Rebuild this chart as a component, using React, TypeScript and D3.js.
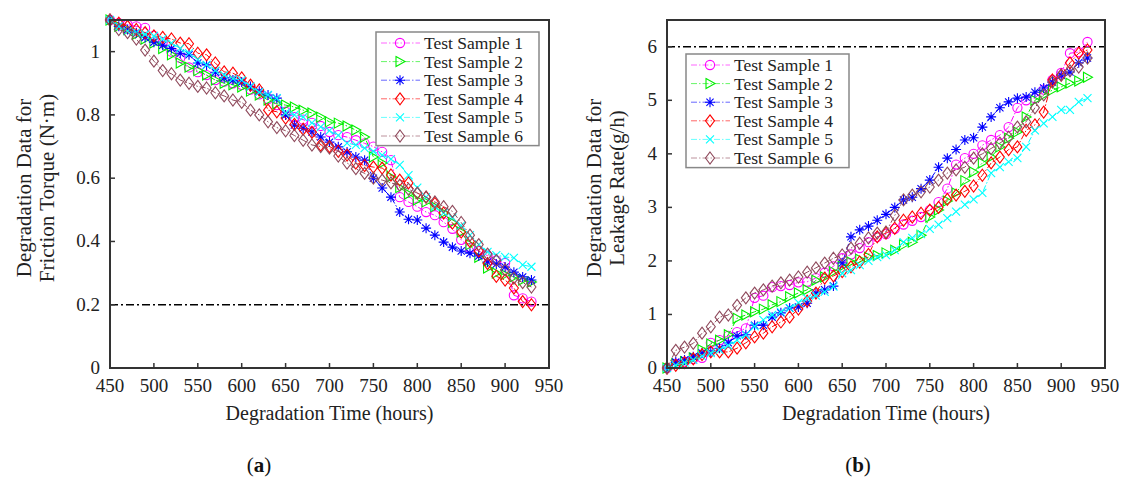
import React from "react";
import * as d3 from "d3";

const hours = [450,460,470,480,490,500,510,520,530,540,550,560,570,580,590,600,610,620,630,640,650,660,670,680,690,700,710,720,730,740,750,760,770,780,790,800,810,820,830,840,850,860,870,880,890,900,910,920,930];

const seriesNames = ["Test Sample 1","Test Sample 2","Test Sample 3","Test Sample 4","Test Sample 5","Test Sample 6"];
const seriesColors = ["#ff00ff","#00ee00","#0000ff","#ff0000","#00ffff","#8f4a5c"];
const seriesMarkers = ["circle","triangle","asterisk","diamond","cross","diamond"];

const torque1 = [1.1,1.09,1.085,1.08,1.075,1.05,1.03,1.0,0.98,0.95,0.935,0.926,0.91,0.905,0.9,0.895,0.88,0.865,0.85,0.831,0.81,0.793,0.785,0.775,0.765,0.746,0.736,0.73,0.72,0.71,0.70,0.683,0.657,0.54,0.525,0.51,0.493,0.483,0.461,0.44,0.405,0.38,0.37,0.355,0.34,0.332,0.23,0.22,0.21];
const torque2 = [1.1,1.08,1.07,1.055,1.04,1.027,1.01,0.99,0.964,0.951,0.94,0.926,0.91,0.9,0.895,0.888,0.875,0.863,0.847,0.835,0.831,0.825,0.815,0.806,0.793,0.778,0.774,0.765,0.752,0.73,0.667,0.648,0.604,0.57,0.55,0.531,0.525,0.51,0.49,0.46,0.43,0.39,0.35,0.316,0.3,0.295,0.288,0.278,0.272];
const torque3 = [1.1,1.08,1.07,1.06,1.045,1.03,1.02,1.01,0.995,0.99,0.964,0.958,0.935,0.917,0.91,0.904,0.89,0.875,0.863,0.853,0.8,0.768,0.758,0.746,0.73,0.714,0.699,0.683,0.667,0.657,0.6,0.569,0.54,0.493,0.47,0.468,0.442,0.42,0.398,0.382,0.37,0.363,0.354,0.335,0.329,0.319,0.303,0.288,0.278];
const torque4 = [1.1,1.09,1.08,1.07,1.06,1.05,1.045,1.04,1.027,1.025,0.995,0.99,0.964,0.936,0.932,0.917,0.894,0.879,0.815,0.81,0.79,0.77,0.755,0.745,0.705,0.7,0.685,0.673,0.648,0.64,0.635,0.632,0.61,0.594,0.585,0.553,0.54,0.52,0.49,0.458,0.43,0.4,0.37,0.33,0.29,0.278,0.253,0.21,0.2];
const torque5 = [1.1,1.08,1.065,1.06,1.055,1.05,1.04,1.027,1.01,0.995,0.975,0.958,0.94,0.926,0.915,0.91,0.89,0.872,0.863,0.853,0.806,0.8,0.793,0.775,0.762,0.75,0.735,0.711,0.705,0.695,0.685,0.673,0.66,0.642,0.61,0.57,0.54,0.51,0.49,0.475,0.45,0.42,0.39,0.367,0.357,0.351,0.348,0.326,0.32];
const torque6 = [1.1,1.07,1.06,1.04,1.005,0.97,0.94,0.93,0.91,0.9,0.89,0.885,0.87,0.86,0.847,0.84,0.815,0.8,0.778,0.76,0.75,0.735,0.72,0.705,0.7,0.695,0.67,0.648,0.63,0.615,0.6,0.594,0.585,0.578,0.565,0.553,0.54,0.525,0.51,0.495,0.46,0.42,0.39,0.36,0.34,0.31,0.284,0.27,0.256];

const leak1 = [0,0.08,0.12,0.17,0.19,0.47,0.52,0.6,0.67,0.74,1.31,1.35,1.51,1.53,1.55,1.6,1.61,1.68,1.78,1.9,2.05,2.12,2.24,2.35,2.45,2.5,2.6,2.68,2.75,2.82,2.95,3.1,3.35,3.8,3.92,4.0,4.16,4.26,4.35,4.5,4.86,5.0,5.04,5.2,5.38,5.51,5.88,5.9,6.09];
const leak2 = [0,0.08,0.12,0.19,0.34,0.45,0.52,0.62,0.93,0.99,1.05,1.1,1.18,1.24,1.33,1.4,1.46,1.64,1.7,1.8,1.9,1.98,2.03,2.07,2.1,2.15,2.2,2.3,2.35,2.48,2.82,2.95,3.12,3.27,3.5,3.66,3.83,3.94,4.13,4.29,4.41,4.69,5.0,5.1,5.19,5.25,5.32,5.36,5.43];
const leak3 = [0,0.11,0.15,0.21,0.28,0.3,0.37,0.47,0.6,0.62,0.8,0.8,0.95,1.03,1.12,1.14,1.21,1.4,1.46,1.53,1.96,2.45,2.58,2.65,2.76,2.87,3.0,3.14,3.19,3.35,3.51,3.75,3.92,4.08,4.26,4.3,4.5,4.69,4.86,4.97,5.04,5.06,5.15,5.23,5.34,5.47,5.53,5.7,5.79];
const leak4 = [0,0.05,0.1,0.17,0.25,0.3,0.3,0.3,0.37,0.47,0.58,0.65,0.77,0.86,0.95,1.1,1.25,1.4,1.68,1.72,1.8,1.89,1.98,2.12,2.45,2.52,2.61,2.76,2.82,2.89,2.95,3.0,3.15,3.23,3.3,3.4,3.6,3.83,3.94,4.08,4.13,4.44,4.54,4.78,5.38,5.47,5.7,5.88,5.94];
const leak5 = [0,0.05,0.1,0.15,0.22,0.28,0.34,0.42,0.52,0.62,0.78,0.9,0.99,1.05,1.12,1.22,1.3,1.35,1.42,1.52,1.77,1.83,1.92,2.0,2.07,2.11,2.2,2.35,2.43,2.5,2.6,2.68,2.8,2.92,3.05,3.15,3.27,3.64,3.75,3.85,3.92,4.13,4.44,4.57,4.69,4.82,4.82,4.97,5.04];
const leak6 = [0,0.33,0.39,0.46,0.65,0.77,0.95,0.99,1.17,1.31,1.4,1.46,1.53,1.59,1.64,1.7,1.79,1.87,1.96,2.05,2.11,2.24,2.33,2.43,2.52,2.54,2.85,3.14,3.23,3.29,3.38,3.51,3.64,3.7,3.75,3.92,4.0,4.1,4.2,4.31,4.5,4.6,4.86,5.1,5.34,5.47,5.55,5.62,5.79];

const xTicks = [450,500,550,600,650,700,750,800,850,900,950];
const torqueTicks = [0,0.2,0.4,0.6,0.8,1];
const leakTicks = [0,1,2,3,4,5,6];
const torqueThreshold = 0.2;
const leakThreshold = 6;

const FONT = "'Liberation Serif', 'Times New Roman', serif";

function Marker({ type, x, y, color }: { type: string; x: number; y: number; color: string }) {
  const sw = 1.1;
  if (type === "circle") return <circle cx={x} cy={y} r={4.6} fill="none" stroke={color} strokeWidth={sw} />;
  if (type === "triangle")
    return <path d={`M${x - 4},${y - 5} L${x + 5},${y} L${x - 4},${y + 5} Z`} fill="none" stroke={color} strokeWidth={sw} />;
  if (type === "diamond")
    return <path d={`M${x},${y - 6} L${x + 4.5},${y} L${x},${y + 6} L${x - 4.5},${y} Z`} fill="none" stroke={color} strokeWidth={sw} />;
  if (type === "cross")
    return (
      <path d={`M${x - 4},${y - 4} L${x + 4},${y + 4} M${x - 4},${y + 4} L${x + 4},${y - 4}`} fill="none" stroke={color} strokeWidth={sw} />
    );
  return (
    <path
      d={`M${x},${y - 5} L${x},${y + 5} M${x - 5},${y} L${x + 5},${y} M${x - 3.6},${y - 3.6} L${x + 3.6},${y + 3.6} M${x - 3.6},${y + 3.6} L${x + 3.6},${y - 3.6}`}
      fill="none"
      stroke={color}
      strokeWidth={sw}
    />
  );
}

type PanelProps = {
  left: number;
  right: number;
  top: number;
  bottom: number;
  yMax: number;
  yTicks: number[];
  yFmt: (v: number) => string;
  series: number[][];
  threshold: number;
  titleLines: string[];
  titleX: number[];
  legendX: number;
  legendY: number;
  tag: string;
  tagX: number;
};

function Panel(p: PanelProps) {
  const x = d3.scaleLinear().domain([450, 950]).range([p.left, p.right]);
  const y = d3.scaleLinear().domain([0, p.yMax]).range([p.bottom, p.top]);
  const line = d3
    .line<number>()
    .x((_, i) => x(hours[i]))
    .y((d) => y(d));
  const legW = 163;
  const rowH = 18.6;
  const legH = rowH * 6 + 2;
  const cy = 188;
  return (
    <g>
      <line x1={p.left} x2={p.right} y1={y(p.threshold)} y2={y(p.threshold)} stroke="#000" strokeWidth={1.6} strokeDasharray="8,3,2,3" />
      {p.series.map((s, si) => (
        <g key={si}>
          <path d={line(s) || ""} fill="none" stroke={seriesColors[si]} strokeWidth={1} strokeDasharray="6,2,1.5,2" />
          {s.map((v, i) => (
            <Marker key={i} type={seriesMarkers[si]} x={x(hours[i])} y={y(v)} color={seriesColors[si]} />
          ))}
        </g>
      ))}
      <rect x={p.left} y={p.top} width={p.right - p.left} height={p.bottom - p.top} fill="none" stroke="#333" strokeWidth={2} />
      {xTicks.map((t) => (
        <g key={t}>
          <line x1={x(t)} x2={x(t)} y1={p.bottom} y2={p.bottom - 5} stroke="#333" strokeWidth={1.5} />
          <text x={x(t)} y={p.bottom + 24} fontSize={19} fontFamily={FONT} textAnchor="middle" fill="#222">
            {t}
          </text>
        </g>
      ))}
      {p.yTicks.map((t) => (
        <g key={t}>
          <line x1={p.left} x2={p.left + 5} y1={y(t)} y2={y(t)} stroke="#333" strokeWidth={1.5} />
          <text x={p.left - 10} y={y(t) + 6} fontSize={19} fontFamily={FONT} textAnchor="end" fill="#222">
            {p.yFmt(t)}
          </text>
        </g>
      ))}
      <text x={(p.left + p.right) / 2} y={420} fontSize={20} fontFamily={FONT} textAnchor="middle" fill="#222">
        Degradation Time (hours)
      </text>
      {p.titleLines.map((t, i) => (
        <text
          key={i}
          transform={`translate(${p.titleX[i]},${cy}) rotate(-90)`}
          fontSize={21}
          fontFamily={FONT}
          textAnchor="middle"
          fill="#222"
        >
          {t}
        </text>
      ))}
      <rect x={p.legendX} y={p.legendY} width={legW} height={legH} fill="#fff" stroke="#888" strokeWidth={1.5} />
      {seriesNames.map((n, i) => {
        const ry = p.legendY + 11 + i * rowH;
        return (
          <g key={n}>
            <line x1={p.legendX + 5} x2={p.legendX + 44} y1={ry} y2={ry} stroke={seriesColors[i]} strokeOpacity={0.6} strokeWidth={1} strokeDasharray="6,2,1.5,2" />
            <Marker type={seriesMarkers[i]} x={p.legendX + 24} y={ry} color={seriesColors[i]} />
            <text x={p.legendX + 48} y={ry + 6} fontSize={17.5} fontFamily={FONT} fill="#222">
              {n}
            </text>
          </g>
        );
      })}
      <text x={p.tagX} y={472} fontSize={21} fontFamily={FONT} textAnchor="middle" fill="#111">
        (<tspan fontWeight="bold">{p.tag}</tspan>)
      </text>
    </g>
  );
}

export default function App() {
  return (
    <svg width={1126} height={477} style={{ position: "absolute", left: 0, top: 0, background: "#fff" }}>
      <rect width={1126} height={477} fill="#fff" />
      <Panel
        left={110}
        right={549}
        top={20}
        bottom={368}
        yMax={1.1}
        yTicks={torqueTicks}
        yFmt={(v) => (v === 0 || v === 1 ? String(v) : v.toFixed(1))}
        series={[torque1, torque2, torque3, torque4, torque5, torque6]}
        threshold={torqueThreshold}
        titleLines={["Degradation Data for", "Friction Torque (N·m)"]}
        titleX={[31, 54]}
        legendX={376}
        legendY={32}
        tag="a"
        tagX={259}
      />
      <Panel
        left={667}
        right={1105}
        top={20}
        bottom={368}
        yMax={6.5}
        yTicks={leakTicks}
        yFmt={(v) => String(v)}
        series={[leak1, leak2, leak3, leak4, leak5, leak6]}
        threshold={leakThreshold}
        titleLines={["Degradation Data for", "Leakage Rate(g/h)"]}
        titleX={[601, 624]}
        legendX={686}
        legendY={54}
        tag="b"
        tagX={858}
      />
    </svg>
  );
}
